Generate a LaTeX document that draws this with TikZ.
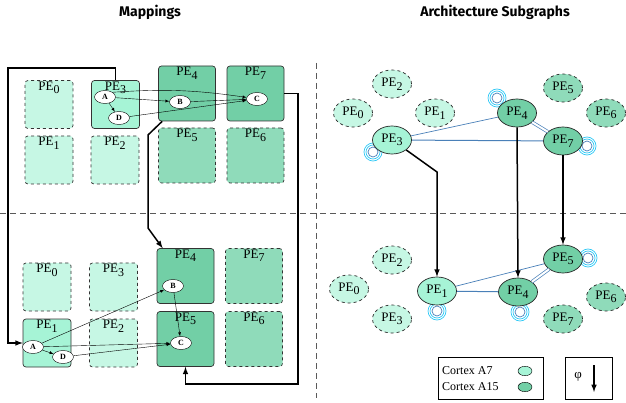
\documentclass[tikz,border=0pt]{standalone}
\usepackage{fontspec}
\setmainfont{Liberation Serif}
\setsansfont{Fira Sans}
\usetikzlibrary{shapes.geometric, backgrounds}

\definecolor{a7busy}{HTML}{A6F4D6}
\definecolor{a7idle}{HTML}{C6F7E4}
\definecolor{a15busy}{HTML}{72CFA6}
\definecolor{a15idle}{HTML}{8FDBBA}
\definecolor{linkblue}{HTML}{4A80B8}
\definecolor{loopcyan}{HTML}{2EC8F5}

\newcommand{\pefont}{\fontsize{13}{15}\selectfont}
\newcommand{\pe}[1]{PE\raisebox{-0.6ex}{\scalebox{0.92}{#1}}}

\begin{document}
\begin{tikzpicture}[> = latex, x = 1pt, y = -1pt,
	smallbox/.style = {draw = black!80, line width = 0.7pt, rounded corners = 3pt, inner sep = 0pt, minimum width = 48pt, minimum height = 48pt},
	bigbox/.style = {smallbox, minimum width = 57pt, minimum height = 55pt},
	pename/.style = {label = {[anchor = north, font = \pefont, inner sep = 1.5pt]north:\pe{#1}}},
	task/.style = {ellipse, draw, fill = white, inner sep = 0pt, minimum width = 21pt, minimum height = 13pt, font = \fontsize{8}{9}\selectfont\bfseries},
	core/.style = {ellipse, draw = black!85, line width = 0.7pt, inner sep = 0pt, minimum width = 39pt, minimum height = 28pt, font = \pefont},
	link/.style = {draw = linkblue, line width = 0.7pt},
	move/.style = {->, line width = 1.5pt},
	split/.style = {draw = black!65, line width = 0.8pt, dash pattern = on 6pt off 4pt}]

	\useasboundingbox (0, 0) rectangle (626, 403);

	% Titles and separators

	\node [font = \sffamily\bfseries\fontsize{14}{16}\selectfont] (maptitle) at (150, 12) {Mappings};
	\node [font = \sffamily\bfseries\fontsize{14}{16}\selectfont] (archtitle) at (495, 12) {Architecture Subgraphs};

	\draw [split] (316, 63) -- (316, 398);
	\draw [split] (0, 213) -- (626, 213);

	% Mappings, top

	\foreach \n/\x/\y in {0/49/104.5, 1/49/160, 2/115/160}
		\node [smallbox, dashed, fill = a7idle, pename = \n] (t\n) at (\x, \y) {};
	\node [smallbox, fill = a7busy, pename = 3] (t3) at (115.5, 104.5) {};
	\foreach \n/\x in {5/187, 6/255.5}
		\node [bigbox, dashed, fill = a15idle, pename = \n] (t\n) at (\x, 155.5) {};
	\foreach \n/\x in {4/187, 7/255.5}
		\node [bigbox, fill = a15busy, pename = \n] (t\n) at (\x, 93.5) {};

	\node [task] (tA) at (105, 97) {A};
	\node [task] (tD) at (119, 118) {D};
	\node [task] (tB) at (180, 102) {B};
	\node [task] (tC) at (257, 99) {C};

	\draw [->] (tA) -- (tD);
	\draw [->] (tA) -- (tB);
	\draw [->] (tA.north east) to [bend left = 6] (tC);
	\draw [->] (tB) -- (tC);
	\draw [->] (tD) -- (tC);

	% Mappings, bottom

	\foreach \n/\x/\y in {0/47/287, 3/113.5/287, 2/113.5/343}
		\node [smallbox, dashed, fill = a7idle, pename = \n] (b\n) at (\x, \y) {};
	\node [smallbox, fill = a7busy, pename = 1] (b1) at (47, 343) {};
	\foreach \n/\y in {7/276, 6/339}
		\node [bigbox, dashed, fill = a15idle, pename = \n] (b\n) at (254, \y) {};
	\foreach \n/\y in {4/276, 5/339}
		\node [bigbox, fill = a15busy, pename = \n] (b\n) at (185.5, \y) {};

	\node [task] (bA) at (33, 347) {A};
	\node [task] (bD) at (63, 357) {D};
	\node [task] (bB) at (173, 286) {B};
	\node [task] (bC) at (181, 343) {C};

	\draw [->] (bA) -- (bD);
	\draw [->] (bA) -- (bB);
	\draw [->] (bA) -- (bC);
	\draw [->] (bB) -- (bC);
	\draw [->] (bD) -- (bC);

	% Remapping moves

	\draw [move] (t3.north) |- (8, 68) |- (b1.west);
	\draw [move] ([xshift = 4pt] t4.south west) -- (148, 135) -- (148, 228) -- ([xshift = 6pt] b4.north west);
	\draw [move] (t7.east) -| (298, 384) -| (b5.south);

	% Architecture subgraphs

	\foreach \n/\x/\y/\c in {0/353/113/a7idle, 1/435/113/a7idle, 2/392/84/a7idle, 5/563/88/a15idle, 6/606/113/a15idle}
		\node [core, dashed, fill = \c] (rt\n) at (\x, \y) {\pe{\n}};
	\node [core, fill = a7busy] (rt3) at (392, 140) {\pe{3}};
	\node [core, fill = a15busy] (rt4) at (517, 113) {\pe{4}};
	\node [core, fill = a15busy] (rt7) at (563, 141) {\pe{7}};

	\foreach \n/\x/\y/\c in {0/349/289/a7idle, 2/392/260/a7idle, 3/392/319/a7idle, 6/606/297/a15idle, 7/563/319/a15idle}
		\node [core, dashed, fill = \c] (rb\n) at (\x, \y) {\pe{\n}};
	\node [core, fill = a7busy] (rb1) at (437, 291) {\pe{1}};
	\node [core, fill = a15busy] (rb4) at (518, 292) {\pe{4}};
	\node [core, fill = a15busy] (rb5) at (563, 259) {\pe{5}};

	\draw [link] (rt3) -- (rt4);
	\draw [link, line width = 1pt] (rt3) -- (rt7);
	\draw [link, double distance = 2pt] (rt4) -- (rt7);

	\draw [link] (rb1) -- (rb5);
	\draw [link, line width = 1pt] (rb1) -- (rb4);
	\draw [link, double distance = 2pt] (rb4) -- (rb5);

	\begin{scope}[on background layer]
		\foreach \v/\dx/\dy in {rt3/-19/12, rt4/-20/-15, rt7/24/5, rb1/0/20, rb4/2/20, rb5/25/-1}
		\foreach \r/\c in {9/loopcyan, 7/loopcyan, 5/linkblue}
			\draw [draw = \c, line width = 0.7pt] ([shift = {(\dx, \dy)}] \v.center) circle [radius = \r];
	\end{scope}

	\draw [move] (rt3.-35) -- (rb1.north |- 0, 172) -- (rb1.north);
	\draw [move] (rt4.south) -- (rb4.north);
	\draw [move] (rt7.south) -- (rb5.north);

	% Legend

	\node [draw, line width = 0.6pt, minimum width = 105pt, minimum height = 42pt] (legend) at (490.5, 378) {};
	\node [anchor = west, font = \fontsize{12}{14}\selectfont, inner sep = 0pt] (a7text) at (442, 371) {Cortex A7};
	\node [anchor = west, font = \fontsize{12}{14}\selectfont, inner sep = 0pt] (a15text) at (442, 387) {Cortex A15};
	\node [ellipse, draw, fill = a7busy, minimum width = 14pt, minimum height = 9pt] (a7dot) at (525, 371) {};
	\node [ellipse, draw, fill = a15busy, minimum width = 14pt, minimum height = 9pt] (a15dot) at (525, 387) {};

	\node [draw, line width = 0.6pt, minimum width = 47pt, minimum height = 42pt] (phibox) at (588.5, 378) {};
	\node [font = \fontsize{13}{15}\selectfont] (phi) at (578, 377) {φ};
	\coordinate (phitop) at (594, 365);
	\coordinate (phibot) at (594, 392);
	\draw [move] (phitop) -- (phibot);

\end{tikzpicture}
\end{document}
